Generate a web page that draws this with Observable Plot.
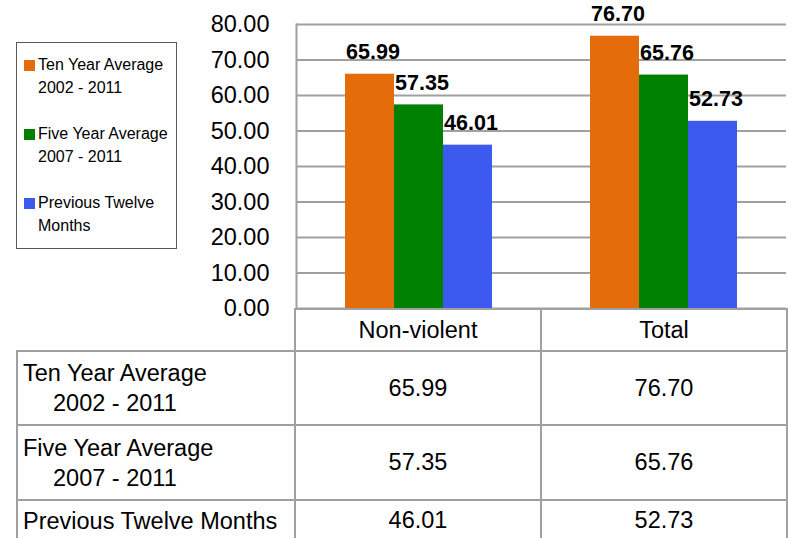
<!DOCTYPE html>
<html>
<head>
<meta charset="utf-8">
<script src="https://cdn.jsdelivr.net/npm/d3@7"></script>
<script src="https://cdn.jsdelivr.net/npm/@observablehq/plot@0.6"></script>
<style>
  html, body { margin: 0; padding: 0; background: #fff; }
  #wrap { position: relative; width: 788px; height: 538px; overflow: hidden; font-family: "Liberation Sans", Arial, sans-serif; color: #000; }
  #chart { position: absolute; left: 0; top: 0; }
  #legend { position: absolute; left: 16px; top: 42px; width: 159px; height: 194px; border: 1px solid #595959; padding: 11px 0 0 0; box-sizing: content-box; font-size: 16px; line-height: 22.5px; }
  #legend .item { position: relative; padding-left: 21px; width: 134px; margin-bottom: 24px; }
  #legend .sw { position: absolute; left: 7px; top: 6px; width: 11px; height: 11px; }
  #table { position: absolute; left: 16px; top: 308px; border-collapse: collapse; table-layout: fixed; width: 770px; font-size: 23.5px; }
  #table td { border: 2px solid #a0a0a0; padding: 0; vertical-align: middle; }
  #table td.val { text-align: center; }
  #table td.lab { text-align: left; padding-left: 5px; line-height: 30px; white-space: nowrap; }
  #table td.lab .sub { padding-left: 30px; }
  #table td.blank { border-top: none; border-left: none; }
</style>
</head>
<body>
<div id="wrap">
  <div id="chart"></div>
  <div id="legend"></div>
  <table id="table"></table>
</div>
<script>
const categories = ["Non-violent", "Total"];
const seriesNames = ["Ten Year Average", "Five Year Average", "Previous Twelve Months"];
const seriesPeriods = ["2002 - 2011", "2007 - 2011", ""];
const tenYearAverage = [65.99, 76.70];
const fiveYearAverage = [57.35, 65.76];
const previousTwelveMonths = [46.01, 52.73];
const seriesColors = ["#E46C0A", "#008000", "#3D5AEE"];
const yTicks = [0, 10, 20, 30, 40, 50, 60, 70, 80];

const seriesValues = [tenYearAverage, fiveYearAverage, previousTwelveMonths];
const data = categories.flatMap((c, i) =>
  seriesNames.map((s, j) => ({category: c, series: s, value: seriesValues[j][i]}))
);
const fmt = d3.format(".2f");

const chart = Plot.plot({
  width: 788,
  height: 310,
  marginLeft: 295,
  marginRight: 2,
  marginTop: 24,
  marginBottom: 2,
  style: {fontFamily: "'Liberation Sans', Arial, sans-serif", overflow: "visible", background: "transparent", color: "#000"},
  fx: {domain: categories, padding: 0, axis: null},
  x: {domain: seriesNames, paddingInner: 0, paddingOuter: 0.99, axis: null},
  y: {domain: [0, 80], axis: null},
  color: {domain: seriesNames, range: seriesColors},
  marks: [
    Plot.gridY(yTicks, {stroke: "#a0a0a0", strokeOpacity: 1, strokeWidth: 2}),
    Plot.frame({anchor: "left", facet: "super", stroke: "#a0a0a0", strokeWidth: 2}),
    Plot.axisY(yTicks, {tickFormat: fmt, tickSize: 0, tickPadding: 27, fontSize: 23.5, fill: "#000", label: null}),
    Plot.barY(data, {fx: "category", x: "series", y: "value", fill: "series"}),
    Plot.text(data, {fx: "category", x: "series", y: "value", text: d => fmt(d.value), dy: -22, dx: 3, fontWeight: "bold", fontSize: 21.5, fill: "#000"})
  ]
});
document.getElementById("chart").appendChild(chart);

// Legend
const legend = document.getElementById("legend");
seriesNames.forEach((s, i) => {
  const item = document.createElement("div");
  item.className = "item";
  const sw = document.createElement("span");
  sw.className = "sw";
  sw.style.background = seriesColors[i];
  item.appendChild(sw);
  const t = document.createElement("div");
  t.textContent = s;
  item.appendChild(t);
  if (seriesPeriods[i]) {
    const p = document.createElement("div");
    p.textContent = seriesPeriods[i];
    item.appendChild(p);
  }
  legend.appendChild(item);
});

// Data table
const table = document.getElementById("table");
const cg = document.createElement("colgroup");
[278, 246, 246].forEach(w => { const c = document.createElement("col"); c.style.width = w + "px"; cg.appendChild(c); });
table.appendChild(cg);
const head = document.createElement("tr");
head.style.height = "42px";
const blank = document.createElement("td");
blank.className = "blank";
head.appendChild(blank);
categories.forEach(c => {
  const td = document.createElement("td");
  td.className = "val";
  td.textContent = c;
  head.appendChild(td);
});
table.appendChild(head);
const rowHeights = ["74px", "75px", "41px"];
seriesNames.forEach((s, j) => {
  const tr = document.createElement("tr");
  tr.style.height = rowHeights[j];
  const lab = document.createElement("td");
  lab.className = "lab";
  const l1 = document.createElement("div");
  l1.textContent = s;
  lab.appendChild(l1);
  if (seriesPeriods[j]) {
    const l2 = document.createElement("div");
    l2.className = "sub";
    l2.textContent = seriesPeriods[j];
    lab.appendChild(l2);
  }
  tr.appendChild(lab);
  categories.forEach((c, i) => {
    const td = document.createElement("td");
    td.className = "val";
    td.textContent = fmt(seriesValues[j][i]);
    tr.appendChild(td);
  });
  table.appendChild(tr);
});
</script>
</body>
</html>
